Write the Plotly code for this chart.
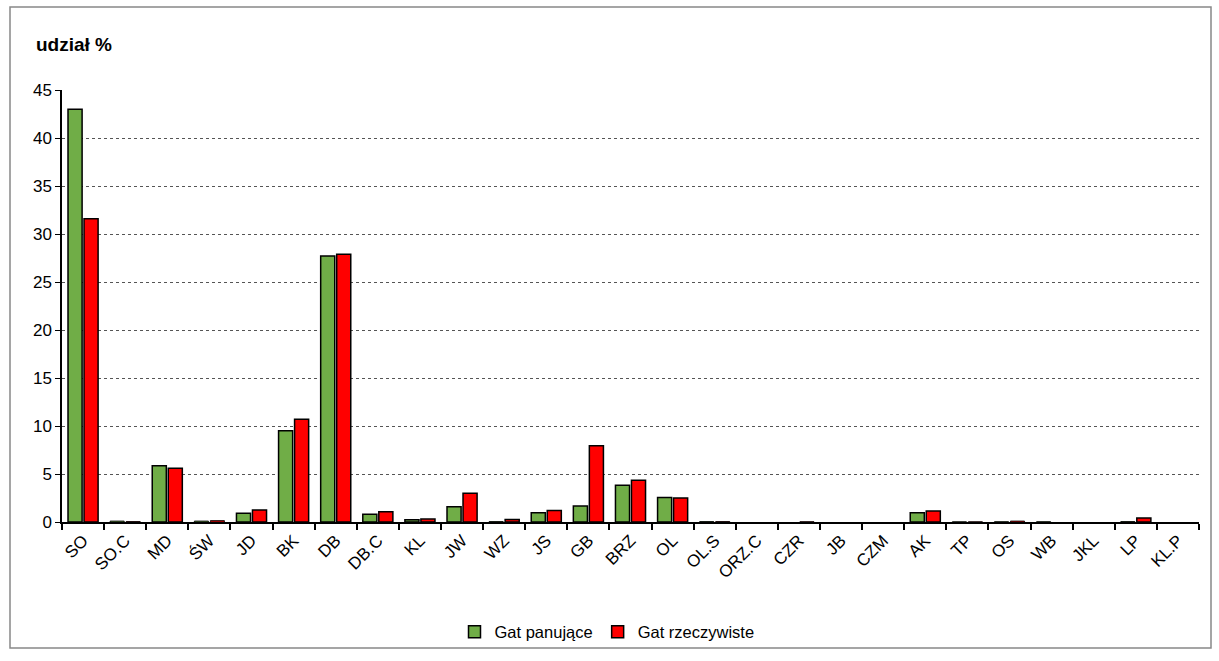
import plotly.graph_objects as go

categories = ["SO", "SO.C", "MD", "ŚW", "JD", "BK", "DB", "DB.C", "KL", "JW", "WZ", "JS", "GB", "BRZ",
              "OL", "OL.S", "ORZ.C", "CZR", "JB", "CZM", "AK", "TP", "OS", "WB", "JKL", "LP", "KL.P"]
gat_panujace = [43.0, 0.1, 5.85, 0.1, 0.9, 9.5, 27.7, 0.8, 0.23, 1.6, 0.05, 0.97, 1.67, 3.83,
                2.55, 0.05, 0.0, 0.0, 0.0, 0.0, 0.97, 0.02, 0.03, 0.03, 0.0, 0.05, 0.0]
gat_rzeczywiste = [31.6, 0.05, 5.6, 0.15, 1.25, 10.7, 27.9, 1.07, 0.3, 3.0, 0.25, 1.2, 7.95, 4.36,
                   2.5, 0.05, 0.0, 0.03, 0.0, 0.0, 1.15, 0.02, 0.1, 0.0, 0.0, 0.42, 0.0]

font = "Liberation Sans, Arial, sans-serif"


def outline_widths(vals):
    return [1.5 if v >= 0.2 else (0.8 if v > 0 else 0) for v in vals]


fig = go.Figure()
fig.add_trace(go.Bar(x=categories, y=gat_panujace, name="Gat panujące",
                     marker=dict(color="#70AD47",
                                 line=dict(color="black", width=outline_widths(gat_panujace)))))
fig.add_trace(go.Bar(x=categories, y=gat_rzeczywiste, name="Gat rzeczywiste",
                     marker=dict(color="#FF0000",
                                 line=dict(color="black", width=outline_widths(gat_rzeczywiste)))))

W, H = 1219, 661
l, r, t, b = 62, 20, 90, 139
pw, ph = W - l - r, H - t - b


def px_x(x):
    return (x - l) / pw


def px_y(y):
    return (H - b - y) / ph


fig.update_layout(
    width=W, height=H,
    margin=dict(l=l, r=r, t=t, b=b),
    paper_bgcolor="white", plot_bgcolor="white",
    barmode="group", bargap=0.24, bargroupgap=0.12,
    font=dict(family=font, size=16, color="black"),
    showlegend=True,
    legend=dict(orientation="h", x=px_x(607), xanchor="center", y=px_y(632), yanchor="middle",
                bgcolor="rgba(0,0,0,0)", font=dict(family=font, size=16.5),
                itemwidth=30, traceorder="normal"),
    xaxis=dict(type="category", showline=True, linecolor="black", linewidth=2,
               ticks="outside", tickson="boundaries", ticklen=6, tickcolor="black", tickwidth=2,
               tickangle=-45, tickfont=dict(family=font, size=17), showgrid=False),
    yaxis=dict(range=[0, 45], tick0=0, dtick=5, showline=True, linecolor="black", linewidth=1.5,
               ticks="outside", ticklen=5, tickcolor="black",
               tickfont=dict(family=font, size=17),
               showgrid=True, gridcolor="#555555", griddash="dot", gridwidth=1, zeroline=False),
    shapes=[dict(type="rect", xref="paper", yref="paper",
                 x0=px_x(10), x1=px_x(1211), y0=px_y(648), y1=px_y(7),
                 line=dict(color="#888888", width=1.5), fillcolor="rgba(0,0,0,0)", layer="below")],
    annotations=[dict(text="<b>udział %</b>", xref="paper", yref="paper",
                      x=px_x(34), y=px_y(45), xanchor="left", yanchor="middle",
                      showarrow=False, font=dict(family=font, size=19, color="black"))],
)

fig.write_html("out.html")
